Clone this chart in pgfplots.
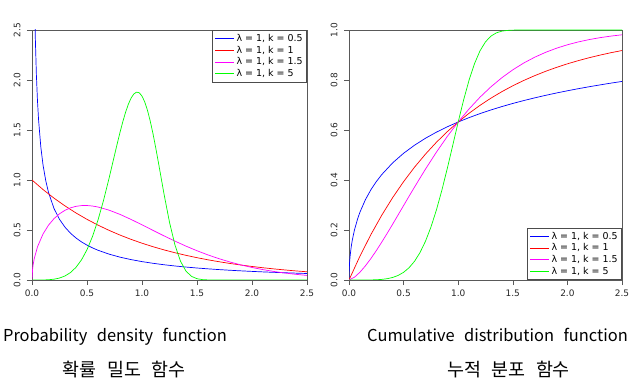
\documentclass[border=0pt]{standalone}
\usepackage{fontspec}
\setmainfont{DejaVu Sans}
\newfontfamily\krfont{Noto Sans CJK KR}
\usepackage{pgfplots}
\pgfplotsset{compat=1.18}
\definecolor{rblue}{RGB}{0,0,255}
\definecolor{rred}{RGB}{255,0,0}
\definecolor{rmag}{RGB}{255,0,255}
\definecolor{rgreen}{RGB}{0,255,0}
\pgfplotsset{
  wb/.style={
    scale only axis,
    xmin=0, xmax=2.5, ymin=0,
    axis line style={draw=black!65},
    tick pos=left, tick align=outside,
    major tick length=5bp,
    tick style={black!65, line width=0.6pt},
    every tick label/.append style={font=\fontsize{9}{10}\selectfont, text=black!85},
    /pgf/number format/assume math mode=true,
    xtick={0,0.5,1,1.5,2,2.5},
    xticklabel style={/pgf/number format/.cd, fixed, fixed zerofill, precision=1},
    yticklabel style={rotate=90, anchor=south, /pgf/number format/.cd, fixed, fixed zerofill, precision=1},
    xticklabel shift=1bp,
    yticklabel shift=3bp,
    legend style={font=\fontsize{9.5}{10}\selectfont, draw=black!70, line width=0.6pt,
      inner sep=2bp, row sep=-1pt},
    legend cell align=left,
    legend image code/.code={\draw[#1] (0bp,0bp) -- (19bp,0bp);},
    legend image post style={line width=0.9pt},
    every axis plot/.append style={line width=0.7pt, no marks},
  }
}
\begin{document}
\begin{tikzpicture}
\useasboundingbox (0,0) rectangle (642bp,389bp);
\begin{axis}[wb, at={(32bp,109bp)}, anchor=south west, width=275bp, height=250bp,
  ymax=2.5, ytick={0,0.5,1,1.5,2,2.5},
  legend style={at={(1,1)}, anchor=north east}]
\addplot[draw=rblue] coordinates {(0.005,6.59)(0.01,4.524)(0.02,3.070)(0.03,2.428)(0.04,2.047)(0.05,1.788)(0.06,1.598)(0.08,1.332)(0.1,1.1525)(0.125,0.993)(0.15,0.8765)(0.2,0.7149)(0.25,0.6065)(0.3,0.5279)(0.35,0.4677)(0.4,0.4200)(0.45,0.3811)(0.5,0.3487)(0.55,0.3212)(0.6,0.2975)(0.7,0.2588)(0.8,0.2285)(0.9,0.2041)(1.0,0.1839)(1.1,0.1670)(1.2,0.1526)(1.3,0.1402)(1.4,0.1294)(1.5,0.1199)(1.6,0.1116)(1.7,0.1041)(1.8,0.0974)(1.9,0.0914)(2.0,0.0860)(2.1,0.0810)(2.2,0.0765)(2.3,0.0724)(2.4,0.0685)(2.5,0.0651)};
\addlegendentry{λ = 1, k = 0.5}
\addplot[draw=rred] coordinates {(0,1)(0.1,0.9048)(0.2,0.8187)(0.3,0.7408)(0.4,0.6703)(0.5,0.6065)(0.6,0.5488)(0.7,0.4966)(0.8,0.4493)(0.9,0.4066)(1.0,0.3679)(1.1,0.3329)(1.2,0.3012)(1.3,0.2725)(1.4,0.2466)(1.5,0.2231)(1.6,0.2019)(1.7,0.1827)(1.8,0.1653)(1.9,0.1496)(2.0,0.1353)(2.1,0.1225)(2.2,0.1108)(2.3,0.1003)(2.4,0.0907)(2.5,0.0821)};
\addlegendentry{λ = 1, k = 1}
\addplot[draw=rmag] coordinates {(0,0)(0.005,0.106)(0.01,0.1499)(0.02,0.2121)(0.05,0.3317)(0.1,0.4596)(0.15,0.5482)(0.2,0.6135)(0.25,0.6619)(0.3,0.6971)(0.35,0.7214)(0.4,0.7367)(0.45,0.7440)(0.5,0.7448)(0.55,0.7397)(0.6,0.7300)(0.7,0.6987)(0.8,0.6561)(0.9,0.6059)(1.0,0.5518)(1.1,0.4963)(1.2,0.4413)(1.3,0.3886)(1.4,0.3386)(1.5,0.2926)(1.6,0.2507)(1.7,0.2132)(1.8,0.1799)(1.9,0.1507)(2.0,0.1254)(2.1,0.1037)(2.2,0.0852)(2.3,0.0696)(2.4,0.0565)(2.5,0.0455)};
\addlegendentry{λ = 1, k = 1.5}
\addplot[draw=rgreen] coordinates {(0,0)(0.1,0.0005)(0.15,0.0025)(0.2,0.0080)(0.25,0.0195)(0.3,0.0404)(0.35,0.0746)(0.4,0.1267)(0.45,0.2013)(0.5,0.3029)(0.55,0.4351)(0.6,0.5995)(0.65,0.7947)(0.7,1.0148)(0.75,1.2478)(0.775,1.3639)(0.8,1.4758)(0.825,1.5806)(0.85,1.6747)(0.875,1.7549)(0.9,1.8177)(0.925,1.8597)(0.95,1.8785)(0.975,1.8722)(1.0,1.8394)(1.025,1.7804)(1.05,1.6961)(1.075,1.5888)(1.1,1.4626)(1.125,1.3212)(1.15,1.1702)(1.2,0.8610)(1.25,0.5772)(1.3,0.3486)(1.35,0.1876)(1.4,0.0886)(1.45,0.0364)(1.5,0.0128)(1.55,0.0038)(1.6,0.0009)(1.7,0.0000)(2.5,0)};
\addlegendentry{λ = 1, k = 5}
\end{axis}
\begin{axis}[wb, at={(349bp,109bp)}, anchor=south west, width=273bp, height=250bp,
  ymax=1, ytick={0,0.2,0.4,0.6,0.8,1.0},
  legend style={at={(1,0)}, anchor=south east}]
\addplot[draw=rblue] coordinates {(0,0)(0.001,0.0311)(0.005,0.0683)(0.01,0.0952)(0.02,0.1319)(0.03,0.1590)(0.05,0.2003)(0.08,0.2463)(0.1,0.2711)(0.15,0.3211)(0.2,0.3606)(0.25,0.3935)(0.3,0.4217)(0.4,0.4687)(0.5,0.5069)(0.6,0.5391)(0.7,0.5669)(0.8,0.5912)(0.9,0.6128)(1.0,0.6321)(1.1,0.6496)(1.2,0.6656)(1.3,0.6802)(1.4,0.6937)(1.5,0.7062)(1.6,0.7177)(1.7,0.7285)(1.8,0.7386)(1.9,0.7480)(2.0,0.7569)(2.1,0.7652)(2.2,0.7731)(2.3,0.7805)(2.4,0.7876)(2.5,0.7942)};
\addlegendentry{λ = 1, k = 0.5}
\addplot[draw=rred] coordinates {(0,0)(0.1,0.0952)(0.2,0.1813)(0.3,0.2592)(0.4,0.3297)(0.5,0.3935)(0.6,0.4512)(0.7,0.5034)(0.8,0.5507)(0.9,0.5934)(1.0,0.6321)(1.1,0.6671)(1.2,0.6988)(1.3,0.7275)(1.4,0.7534)(1.5,0.7769)(1.6,0.7981)(1.7,0.8173)(1.8,0.8347)(1.9,0.8504)(2.0,0.8647)(2.1,0.8775)(2.2,0.8892)(2.3,0.8997)(2.4,0.9093)(2.5,0.9179)};
\addlegendentry{λ = 1, k = 1}
\addplot[draw=rmag] coordinates {(0,0)(0.05,0.0111)(0.1,0.0311)(0.15,0.0564)(0.2,0.0855)(0.25,0.1175)(0.3,0.1515)(0.35,0.1870)(0.4,0.2235)(0.45,0.2606)(0.5,0.2978)(0.55,0.3350)(0.6,0.3717)(0.7,0.4433)(0.8,0.5110)(0.9,0.5742)(1.0,0.6321)(1.1,0.6845)(1.2,0.7314)(1.3,0.7728)(1.4,0.8092)(1.5,0.8407)(1.6,0.8679)(1.7,0.8910)(1.8,0.9106)(1.9,0.9271)(2.0,0.9409)(2.1,0.9523)(2.2,0.9617)(2.3,0.9694)(2.4,0.9757)(2.5,0.9808)};
\addlegendentry{λ = 1, k = 1.5}
\addplot[draw=rgreen] coordinates {(0,0)(0.1,0.00001)(0.2,0.00032)(0.25,0.00098)(0.3,0.00243)(0.35,0.00524)(0.4,0.01019)(0.45,0.01828)(0.5,0.03077)(0.55,0.04909)(0.6,0.07481)(0.65,0.10956)(0.7,0.15471)(0.75,0.21126)(0.8,0.27941)(0.85,0.35837)(0.9,0.44590)(0.95,0.53873)(1.0,0.63212)(1.05,0.72093)(1.1,0.80020)(1.15,0.86619)(1.2,0.91696)(1.25,0.95272)(1.3,0.97559)(1.35,0.98871)(1.4,0.99538)(1.45,0.99835)(1.5,0.99950)(1.55,0.99987)(1.6,0.99997)(1.7,1)(2.5,1)};
\addlegendentry{λ = 1, k = 5}
\end{axis}
\node[anchor=base, font=\krfont\fontsize{16.5}{19}\selectfont, inner sep=0pt] at (115bp,47bp) {Probability\hspace{0.35em} density\hspace{0.35em} function};
\node[anchor=base, font=\krfont\fontsize{18.5}{21}\selectfont, inner sep=0pt] at (124bp,13bp) {확률\hspace{0.35em} 밀도\hspace{0.35em} 함수};
\node[anchor=base, font=\krfont\fontsize{16.5}{19}\selectfont, inner sep=0pt] at (497.5bp,47bp) {Cumulative\hspace{0.35em} distribution\hspace{0.35em} function};
\node[anchor=base, font=\krfont\fontsize{18.5}{21}\selectfont, inner sep=0pt] at (508.5bp,13bp) {누적\hspace{0.35em} 분포\hspace{0.35em} 함수};
\end{tikzpicture}
\end{document}
